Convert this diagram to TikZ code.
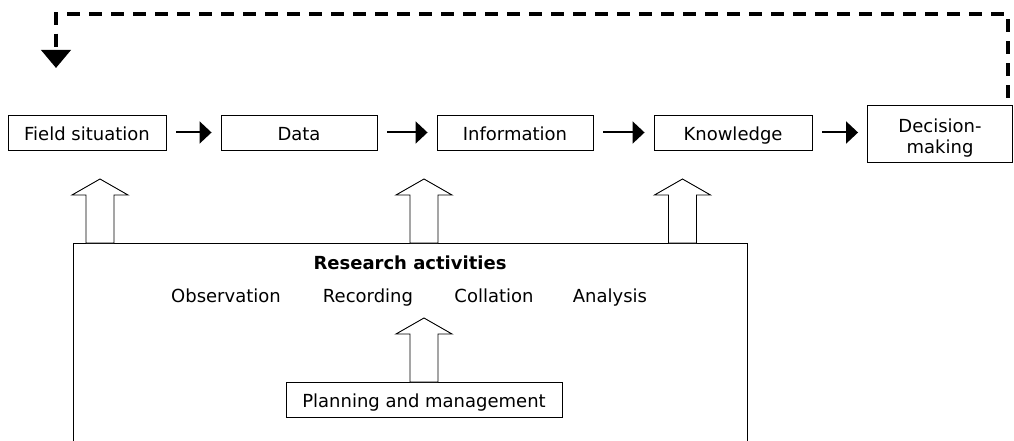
\documentclass[tikz,border=0pt]{standalone}
\usepackage{fontspec}
\setmainfont{DejaVu Sans}
\usetikzlibrary{arrows.meta,calc}
\begin{document}
\begin{tikzpicture}[x=1pt,y=-1pt,
  box/.style={draw,line width=0.9pt,inner sep=0pt,font=\fontsize{18}{21}\selectfont,align=center,text height=17pt,text depth=2pt},
  flow/.style={line width=2pt,-{Triangle[width=22pt,length=12pt]},shorten <=10pt,shorten >=9pt},
  feedback/.style={line width=4pt,dash pattern=on 13pt off 9pt,-{Triangle[width=29pt,length=18pt]}},
  hollow/.style={draw,line width=0.9pt,fill=white,line join=miter},
  lbl/.style={font=\fontsize{18}{21}\selectfont,inner sep=0pt,text height=17pt,text depth=2pt}
]
\useasboundingbox (0,0) rectangle (1014,441);
\clip (0,0) rectangle (1014,441);
% flow boxes
\node[box,minimum width=158pt,minimum height=35pt] (field) at (87,132.5) {Field situation};
\node[box,minimum width=156pt,minimum height=35pt] (data) at (299,132.5) {Data};
\node[box,minimum width=156pt,minimum height=35pt] (info) at (515,132.5) {Information};
\node[box,minimum width=158pt,minimum height=35pt] (know) at (733,132.5) {Knowledge};
\node[draw,line width=0.9pt,inner sep=0pt,minimum width=145pt,minimum height=57pt] (dec) at (940,133.5) {};
\node[font=\fontsize{18}{21}\selectfont,align=center,inner sep=0pt] (dectxt) at ($(dec.center)+(0,4.3)$) {Decision-\\making};
\draw[flow] (field) -- (data);
\draw[flow] (data) -- (info);
\draw[flow] (info) -- (know);
\draw[flow] (know.east) -- (know.east -| dec.west);
% feedback
\coordinate (fbtip) at (56,68);
\draw[feedback] ($(dec.north east)+(-5,-7)$) -- ++(0,-84) -| (fbtip);
% research activities box (open at bottom)
\node[draw,line width=0.9pt,minimum width=674pt,minimum height=230pt,anchor=north west,inner sep=0pt] (ra) at (73,243) {};
\node[lbl,font=\fontsize{18}{21}\selectfont\bfseries] (rat) at (410,261.5) {Research activities};
\node[lbl] (obs) at (226,295) {Observation};
\node[lbl] (rec) at (368,295) {Recording};
\node[lbl] (col) at (494,295) {Collation};
\node[lbl] (ana) at (610,295) {Analysis};
\node[box,minimum width=276pt,minimum height=35pt] (plan) at (424,399.5) {Planning and management};
% hollow arrows
\newcommand{\hollowup}[3]{% center x, bottom y, tip y
  \draw[hollow] (#1-14,#2) -- (#1-14,#3+16) -- (#1-28,#3+16) -- (#1,#3) -- (#1+28,#3+16) -- (#1+14,#3+16) -- (#1+14,#2) -- cycle;}
\hollowup{100}{243}{179}
\hollowup{424}{243}{179}
\hollowup{682.5}{243}{179}
\hollowup{424}{382}{318}
\end{tikzpicture}
\end{document}
